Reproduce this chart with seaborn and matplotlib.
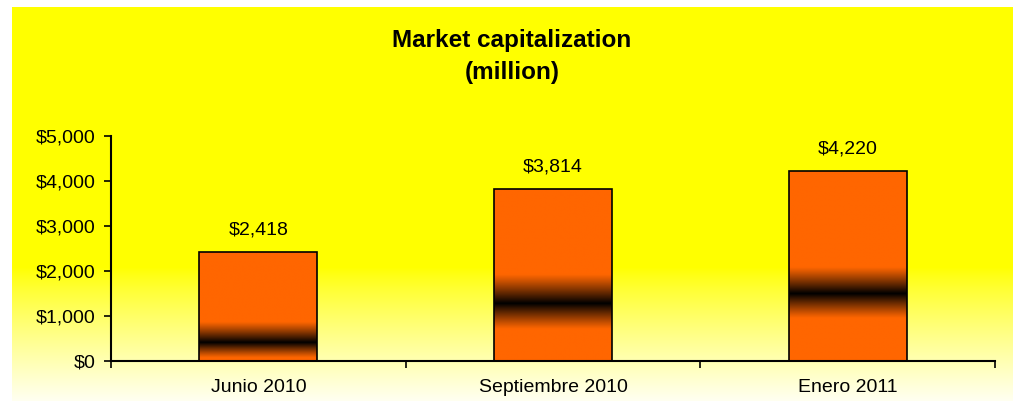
import numpy as np
import pandas as pd
import matplotlib
matplotlib.use("Agg")
import matplotlib.pyplot as plt
import seaborn as sns

# ---- data ----
categories = ["Junio 2010", "Septiembre 2010", "Enero 2011"]
values = [2418, 3814, 4220]
value_labels = ["$2,418", "$3,814", "$4,220"]
y_ticks = [0, 1000, 2000, 3000, 4000, 5000]
y_tick_labels = ["$0", "$1,000", "$2,000", "$3,000", "$4,000", "$5,000"]
title_text = "Market capitalization\n(million)"

# ---- style ----
band_pos = [0.17, 0.335, 0.355]   # dark band position (fraction of bar height)
band_up = [0.19, 0.17, 0.14]      # fade width above band (fraction of bar height)
band_dn = [0.14, 0.15, 0.13]      # fade width below band
orange = np.array([1.0, 0.4, 0.0])

sns.set_theme(style="white")
plt.rcParams["font.family"] = ["Liberation Sans", "DejaVu Sans"]
plt.rcParams["text.color"] = "black"
plt.rcParams["xtick.color"] = "black"
plt.rcParams["ytick.color"] = "black"
plt.rcParams["axes.labelcolor"] = "black"

W, H = 1013, 401
fig = plt.figure(figsize=(W / 100, H / 100), dpi=100, facecolor="white")

# background gradient panel
bg = fig.add_axes([12 / W, 0, 1 - 12 / W, 394 / H], zorder=0)
n = 394
rows = np.zeros((n, 1, 3))
rows[:, :, 0] = 1.0
rows[:, :, 1] = 1.0
py = np.arange(n) + 7  # pixel y from top of figure
t = np.clip((py - 267) / (401 - 267), 0, 1)
rows[:, 0, 2] = 0.95 * t ** 0.85
bg.imshow(rows, aspect="auto", extent=[0, 1, 0, 1], origin="upper",
          interpolation="bilinear")
bg.set_axis_off()

ax = fig.add_axes([111 / W, (H - 361) / H, (995 - 111) / W, (361 - 136) / H], zorder=1)
ax.set_facecolor("none")

df = pd.DataFrame({"cat": categories, "val": values})
sns.barplot(data=df, x="cat", y="val", ax=ax, width=0.4, color="#FF6600",
            edgecolor="black", linewidth=1.2, saturation=1)

# gradient fill inside each bar
for i, p in enumerate(ax.patches):
    x0, w, h = p.get_x(), p.get_width(), p.get_height()
    m = 400
    f = np.linspace(0, 1, m)
    d = f - band_pos[i]
    dark = np.where(d >= 0, 1 - d / band_up[i], 1 + d / band_dn[i])
    dark = np.clip(dark, 0, 1) ** 1.1
    img = (orange[None, :] * (1 - dark[:, None]))[:, None, :]
    im = ax.imshow(img, aspect="auto", extent=[x0, x0 + w, 0, h], origin="lower",
                   interpolation="bilinear", zorder=2)
    im.set_clip_path(p)
    p.set_facecolor("none")
    p.set_zorder(3)

ax.set_xlim(-0.5, 2.5)
ax.set_ylim(0, 5000)

for i, p in enumerate(ax.patches):
    ax.annotate(value_labels[i], (p.get_x() + p.get_width() / 2, p.get_height()),
                xytext=(0, 10), textcoords="offset points", ha="center", va="bottom",
                fontsize=14, color="black")

ax.set_yticks(y_ticks)
ax.set_yticklabels(y_tick_labels, fontsize=14)
ax.set_xticks([-0.5, 0.5, 1.5, 2.5])
ax.set_xticklabels([])
ax.set_xticks([0, 1, 2], minor=True)
ax.set_xticklabels(categories, minor=True, fontsize=14)
ax.tick_params(axis="x", which="minor", length=0, pad=13)
ax.tick_params(axis="x", which="major", direction="out", length=5, width=1.2, color="black")
ax.tick_params(axis="y", direction="out", length=5, width=1.2, color="black", pad=6,
               left=True)
ax.tick_params(axis="x", bottom=True)
ax.set_xlabel("")
ax.set_ylabel("")
for s in ["top", "right"]:
    ax.spines[s].set_visible(False)
for s in ["left", "bottom"]:
    ax.spines[s].set_color("black")
    ax.spines[s].set_linewidth(1.5)

fig.text(512 / W, 1 - 56 / H, title_text, ha="center", va="center", fontsize=17.5,
         fontweight="bold", linespacing=1.5, color="black")

fig.savefig("out.png", dpi=100, facecolor="white")
